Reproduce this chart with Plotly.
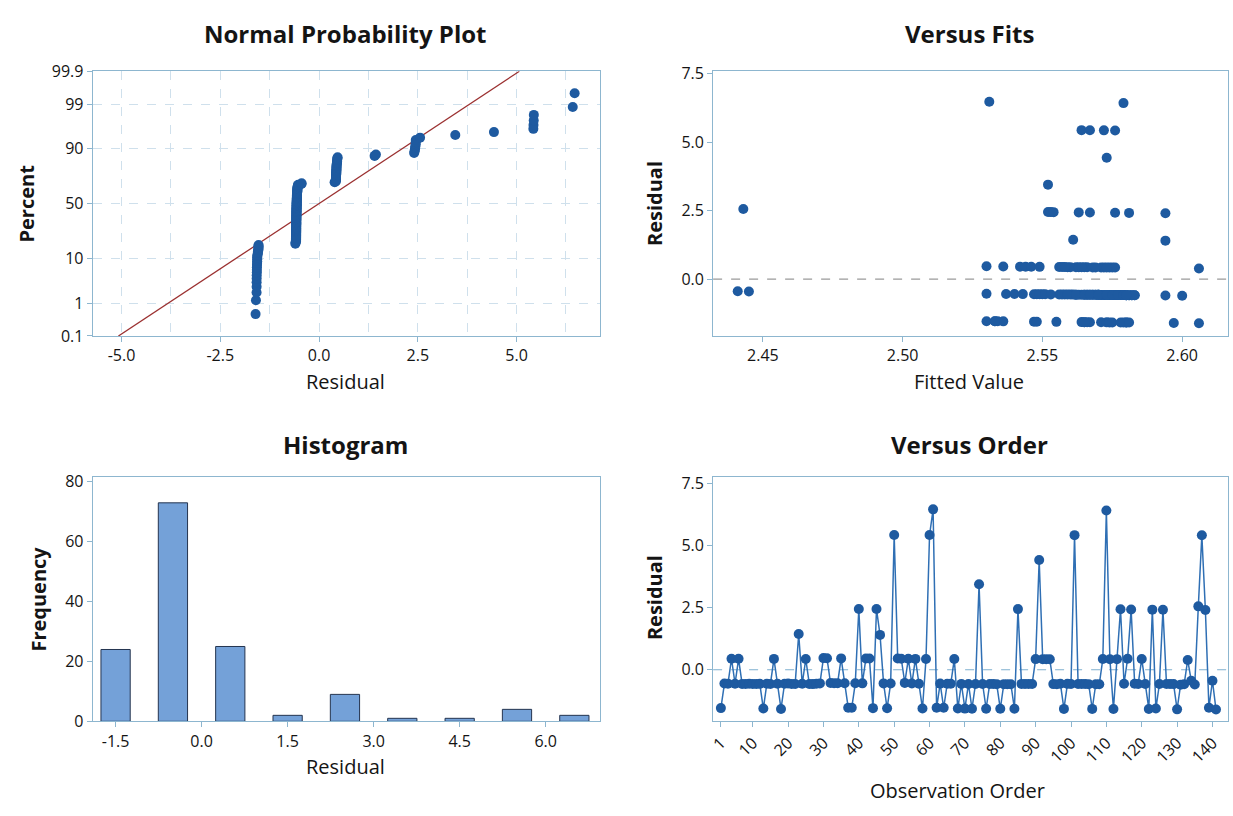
import plotly.graph_objects as go
from statistics import NormalDist, mean, stdev

W, H = 1233, 816

# ---------------- data ----------------
fitted = [
    2.547, 2.556, 2.560, 2.556, 2.563, 2.559, 2.570, 2.575, 2.566, 2.572,
    2.578, 2.569, 2.565, 2.561, 2.574, 2.562, 2.567, 2.580, 2.564, 2.558,
    2.571, 2.576, 2.561, 2.568, 2.566, 2.573, 2.579, 2.562, 2.550, 2.530,
    2.536, 2.537, 2.540, 2.543, 2.542, 2.547, 2.530, 2.533, 2.548, 2.552,
    2.549, 2.544, 2.546, 2.548, 2.553, 2.594, 2.551, 2.555, 2.553, 2.564,
    2.549, 2.557, 2.530, 2.560, 2.557, 2.563, 2.565, 2.564, 2.565, 2.567,
    2.531, 2.534, 2.559, 2.536, 2.562, 2.566, 2.568, 2.566, 2.570, 2.567,
    2.572, 2.571, 2.574, 2.552, 2.576, 2.573, 2.577, 2.578, 2.580, 2.574,
    2.581, 2.582, 2.583, 2.575, 2.554, 2.571, 2.573, 2.575, 2.577, 2.571,
    2.573, 2.572, 2.574, 2.575, 2.579, 2.581, 2.568, 2.578, 2.569, 2.572,
    2.572, 2.574, 2.576, 2.578, 2.580, 2.579, 2.582, 2.583, 2.569, 2.579,
    2.576, 2.580, 2.573, 2.563, 2.565, 2.558, 2.567, 2.567, 2.570, 2.564,
    2.573, 2.581, 2.576, 2.565, 2.576, 2.581, 2.575, 2.577, 2.579, 2.597,
    2.600, 2.580, 2.606, 2.441, 2.594, 2.443, 2.576, 2.594, 2.533, 2.445, 2.606,
]

residuals = [
    -1.547, -0.556, -0.560, 0.444, -0.563, 0.441, -0.570, -0.575, -0.566, -0.572,
    -0.578, -0.569, -1.565, -0.561, -0.574, 0.438, -0.567, -1.580, -0.564, -0.558,
    -0.571, -0.576, 1.439, -0.568, 0.434, -0.573, -0.579, -0.562, -0.550, 0.470,
    0.464, -0.537, -0.540, -0.543, 0.458, -0.547, -1.530, -1.533, -0.548, 2.448,
    -0.549, 0.456, 0.454, -1.548, 2.447, 1.406, -0.551, -1.555, -0.553, 5.436,
    0.451, 0.443, -0.530, 0.440, -0.557, 0.437, -0.565, -1.564, 0.435, 5.433,
    6.469, -1.534, -0.559, -1.536, -0.562, -0.566, 0.432, -1.566, -0.570, -1.567,
    -0.572, -1.571, -0.574, 3.448, -0.576, -1.573, -0.577, -0.578, -0.580, -1.574,
    -0.581, -0.582, -0.583, -1.575, 2.446, -0.571, -0.573, -0.575, -0.577, 0.429,
    4.427, 0.428, 0.426, 0.425, -0.579, -0.581, -0.568, -1.578, -0.569, -0.572,
    5.428, -0.574, -0.576, -0.578, -0.580, -1.579, -0.582, -0.583, 0.431, 6.421,
    0.424, -1.580, 0.427, 2.437, -0.565, 0.442, 2.433, -0.567, -0.570, 0.436,
    -0.573, -1.581, 2.424, -1.565, -0.576, 2.419, -0.575, -0.577, -0.579, -1.597,
    -0.600, -0.580, 0.394, -0.441, -0.594, 2.557, 5.424, 2.406, -1.533, -0.445, -1.606,
]

observation = list(range(1, len(residuals) + 1))

prob_tick_pct = [0.1, 1, 10, 50, 90, 99, 99.9]
prob_tick_text = ["0.1", "1", "10", "50", "90", "99", "99.9"]
npp_x_ticks = [-5.0, -2.5, 0.0, 2.5, 5.0]
fit_x_ticks = [2.45, 2.50, 2.55, 2.60]
resid_y_ticks = [0.0, 2.5, 5.0, 7.5]
hist_x_ticks = [-1.5, 0.0, 1.5, 3.0, 4.5, 6.0]
hist_y_ticks = [0, 20, 40, 60, 80]
order_ticks = [1, 10, 20, 30, 40, 50, 60, 70, 80, 90, 100, 110, 120, 130, 140]

# ---------------- styling ----------------
FONT = "Open Sans"
TXT = "#141414"
FRAME = "#8DB6CF"
GRID = "#CFE0EC"
MARK = "#1E5AA0"
LINE = "#2F6FB4"

nd = NormalDist()
n = len(residuals)
srt = sorted(residuals)
zpos = [nd.inv_cdf((i + 1 - 0.3) / (n + 0.4)) for i in range(n)]
zlo, zhi = nd.inv_cdf(0.001), nd.inv_cdf(0.999)
m, s = mean(residuals), stdev(residuals)
prob_tick_z = [nd.inv_cdf(p / 100.0) for p in prob_tick_pct]


def dom_x(a, b):
    return [a / W, b / W]


def dom_y(top, bottom):
    return [1 - bottom / H, 1 - top / H]


def axis(**kw):
    base = dict(showline=True, linecolor=FRAME, linewidth=1, mirror=True,
                ticks="outside", ticklen=5, tickcolor=FRAME,
                tickfont=dict(family=FONT, size=16, color=TXT),
                zeroline=False, showgrid=False)
    base.update(kw)
    return base


fig = go.Figure()

# Normal probability plot
fig.add_trace(go.Scatter(x=[m + zlo * s, m + zhi * s], y=[zlo, zhi], mode="lines",
                         line=dict(color="#9B3030", width=1.3), xaxis="x", yaxis="y",
                         hoverinfo="skip"))
fig.add_trace(go.Scatter(x=srt, y=zpos, mode="markers",
                         marker=dict(color=MARK, size=10), xaxis="x", yaxis="y"))

# Versus fits
fig.add_trace(go.Scatter(x=fitted, y=residuals, mode="markers",
                         marker=dict(color=MARK, size=10), xaxis="x2", yaxis="y2"))

# Histogram
fig.add_trace(go.Histogram(x=residuals, xbins=dict(start=-2, end=7, size=1),
                           marker=dict(color="#74A1D8", line=dict(color="#24344F", width=1)),
                           xaxis="x3", yaxis="y3"))

# Versus order
fig.add_trace(go.Scatter(x=observation, y=residuals, mode="lines+markers",
                         line=dict(color=LINE, width=1.5),
                         marker=dict(color=MARK, size=10), xaxis="x4", yaxis="y4"))

left_x = dom_x(88, 597)
right_x = dom_x(711, 1228)
top_y = dom_y(62, 334)
bot_y = dom_y(479, 730)

fig.update_layout(
    width=W, height=H, margin=dict(l=0, r=0, t=0, b=0),
    paper_bgcolor="white", plot_bgcolor="white", showlegend=False,
    bargap=0.49,
    font=dict(family=FONT, color=TXT),
    xaxis=axis(domain=left_x, anchor="y", range=[-5.73, 7.1],
               tickvals=npp_x_ticks, ticktext=["%.1f" % v for v in npp_x_ticks],
               showgrid=True, gridcolor=GRID, griddash="dash", gridwidth=1,
               minor=dict(tick0=-5, dtick=1.25, showgrid=True, gridcolor=GRID,
                          griddash="dash", ticks="")),
    yaxis=axis(domain=top_y, anchor="x", range=[zlo, zhi],
               tickvals=prob_tick_z, ticktext=prob_tick_text,
               showgrid=True, gridcolor=GRID, griddash="dash", gridwidth=1),
    xaxis2=axis(domain=right_x, anchor="y2", range=[2.4322, 2.6164],
                tickvals=fit_x_ticks, ticktext=["%.2f" % v for v in fit_x_ticks]),
    yaxis2=axis(domain=top_y, anchor="x2", range=[-2.07, 7.58],
                tickvals=resid_y_ticks, ticktext=["%.1f" % v for v in resid_y_ticks]),
    xaxis3=axis(domain=left_x, anchor="y3", range=[-1.9, 6.94],
                tickvals=hist_x_ticks, ticktext=["%.1f" % v for v in hist_x_ticks]),
    yaxis3=axis(domain=bot_y, anchor="x3", range=[0, 81.6], tickvals=hist_y_ticks),
    xaxis4=axis(domain=right_x, anchor="y4", range=[-1.2, 144.4],
                tickvals=order_ticks, tickangle=-45),
    yaxis4=axis(domain=bot_y, anchor="x4", range=[-2.08, 7.77],
                tickvals=resid_y_ticks, ticktext=["%.1f" % v for v in resid_y_ticks]),
    shapes=[
        dict(type="line", xref="x2 domain", yref="y2", x0=0, x1=1, y0=0, y1=0,
             line=dict(color="#9A9A9A", width=1.2, dash="dash"), layer="below"),
        dict(type="line", xref="x4 domain", yref="y4", x0=0, x1=1, y0=0, y1=0,
             line=dict(color="#7FB0D0", width=1.2, dash="dash"), layer="below"),
    ],
)


def ann(text, x, y, size, bold=False, angle=0):
    t = "<b>%s</b>" % text if bold else text
    fig.add_annotation(text=t, x=x / W, y=1 - y / H, xref="paper", yref="paper",
                       showarrow=False, textangle=angle, xanchor="center", yanchor="middle",
                       font=dict(family=FONT, size=size, color=TXT))


ann("Normal Probability Plot", 342, 23, 24, bold=True)
ann("Versus Fits", 968, 23, 24, bold=True)
ann("Histogram", 342, 445, 24, bold=True)
ann("Versus Order", 968, 445, 24, bold=True)

ann("Percent", 22, 198, 20, bold=True, angle=-90)
ann("Residual", 342, 381, 20)
ann("Residual", 652, 198, 20, bold=True, angle=-90)
ann("Fitted Value", 968, 381, 20)
ann("Frequency", 34, 604, 20, bold=True, angle=-90)
ann("Residual", 342, 776, 20)
ann("Residual", 652, 603, 20, bold=True, angle=-90)
ann("Observation Order", 956, 801, 20)

fig.write_html("out.html")
